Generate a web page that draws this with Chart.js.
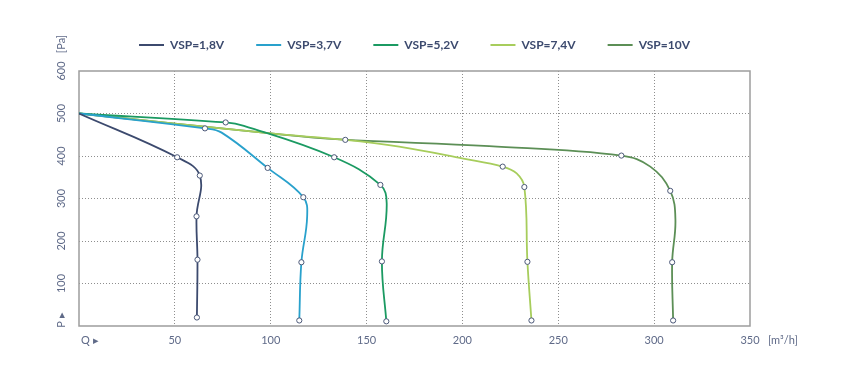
<!DOCTYPE html>
<html><head><meta charset="utf-8">
<script src="https://cdn.jsdelivr.net/npm/chart.js@4.4.1/dist/chart.umd.min.js"></script>
<style>html,body{margin:0;padding:0;background:#fff}#wrap{width:850px;height:382px;position:relative}</style>
</head><body><div id="wrap"><canvas id="c" width="850" height="382"></canvas></div>
<script>
// ---- data ----
const seriesLabels = ['VSP=1,8V', 'VSP=3,7V', 'VSP=5,2V', 'VSP=7,4V', 'VSP=10V'];
const xTickValues = [50, 100, 150, 200, 250, 300, 350];
const yTickValues = [100, 200, 300, 400, 500, 600];

// airflow Q [m3/h] and pressure P [Pa]
const q18 = [0, 51.2, 63.0, 61.3, 61.8, 61.5];
const p18 = [500, 397, 354, 258, 156, 20];
const m18 = [0, 1, 1, 1, 1, 1];

const q37 = [0, 65.7, 74.4, 98.4, 117.0, 119.0, 116.0, 114.9];
const p37 = [500, 465, 455, 372, 303, 257, 150, 13];
const m37 = [0, 1, 0, 1, 1, 0, 1, 1];

const q52 = [0, 76.5, 86.0, 133.1, 157.2, 160.5, 158.0, 160.3];
const p52 = [500, 479, 471, 397, 332, 289, 152, 11];
const m52 = [0, 1, 0, 1, 1, 0, 1, 1];

const q74 = [0, 100, 138.9, 167, 200.5, 221.0, 228.3, 232.3, 233.9, 236.0];
const p74 = [500, 453, 438, 422, 394, 375, 359, 327, 151, 13];
const m74 = [0, 0, 1, 0, 0, 1, 0, 1, 1, 1];

const q10 = [0, 100, 136, 214, 282.9, 298, 308.4, 311.1, 309.4, 309.9];
const p10 = [500, 453, 439, 423, 401, 375, 318, 250, 150, 13];
const m10 = [0, 0, 0, 0, 1, 0, 1, 0, 1, 1];

// ---- styles ----
const colors = ['#3c4a6e', '#29a1cc', '#1b9a62', '#a7cd5c', '#5c8f56'];
const tickColor = '#5f6a88';
const gridColor = '#8e8e8e';
const fontFamily = 'Lato, "Open Sans", sans-serif';

const seriesQ = [q18, q37, q52, q74, q10];
const seriesP = [p18, p37, p52, p74, p10];
const seriesM = [m18, m37, m52, m74, m10];

const datasets = seriesLabels.map((label, i) => ({
  label,
  data: seriesQ[i].map((q, j) => ({ x: q, y: seriesP[i][j] })),
  showLine: true,
  borderColor: colors[i],
  backgroundColor: colors[i],
  borderWidth: 1.8,
  tension: 0.4,
  pointRadius: ctx => seriesM[i][ctx.dataIndex] ? 2.6 : 0,
  pointBackgroundColor: '#ffffff',
  pointBorderColor: '#4b5878',
  pointBorderWidth: 1
}));

const decor = {
  id: 'decor',
  afterLayout(chart) {
    const lg = chart.legend, ca = chart.chartArea;
    if (lg) {
      lg.left = ca.left; lg.right = ca.right;
      lg.top -= 10; lg.bottom -= 10;
    }
  },
  beforeDatasetsDraw(chart) {
    const { ctx, chartArea: ca } = chart;
    ctx.save();
    ctx.strokeStyle = '#9d9d9d';
    ctx.lineWidth = 1.5;
    ctx.strokeRect(ca.left, ca.top, ca.right - ca.left, ca.bottom - ca.top);
    ctx.restore();
  },
  afterDraw(chart) {
    const { ctx, chartArea: ca } = chart;
    ctx.save();
    ctx.fillStyle = tickColor;
    ctx.font = '11px ' + fontFamily;
    ctx.textBaseline = 'middle';
    ctx.textAlign = 'left';
    ctx.fillText('Q \u25B8', ca.left + 2, 340);
    ctx.fillText('[m\u00B3/h]', ca.right + 18, 340);
    ctx.translate(61, ca.bottom - 6);
    ctx.rotate(-Math.PI / 2);
    ctx.textAlign = 'center';
    ctx.fillText('P \u25B8', 0, 0);
    ctx.restore();
    ctx.save();
    ctx.fillStyle = tickColor;
    ctx.font = '11px ' + fontFamily;
    ctx.textBaseline = 'middle';
    ctx.textAlign = 'center';
    ctx.translate(61, 44);
    ctx.rotate(-Math.PI / 2);
    ctx.fillText('[Pa]', 0, 0);
    ctx.restore();
  }
};

new Chart(document.getElementById('c'), {
  type: 'scatter',
  data: { datasets },
  plugins: [decor],
  options: {
    responsive: false,
    animation: false,
    layout: { padding: { top: 17, right: 100, left: 0, bottom: 0 } },
    plugins: {
      tooltip: { enabled: false },
      legend: {
        position: 'top',
        labels: {
          color: '#3c4a6e',
          font: { family: fontFamily, size: 12, weight: 'bold' },
          boxWidth: 25,
          boxHeight: 2,
          padding: 32,
          generateLabels: chart => Chart.defaults.plugins.legend.labels.generateLabels(chart)
            .map(l => Object.assign(l, { fillStyle: l.strokeStyle, lineWidth: 0 }))
        }
      }
    },
    scales: {
      x: {
        type: 'linear', min: 0, max: 350,
        ticks: {
          stepSize: 50, color: tickColor, padding: 8,
          font: { family: fontFamily, size: 11 },
          callback: v => xTickValues.includes(v) ? String(v) : ''
        },
        grid: {
          drawTicks: false,
          color: c => (c.tick.value === 0 || c.tick.value === 350) ? 'rgba(0,0,0,0)' : gridColor,
          lineWidth: 1
        },
        border: { display: false, dash: [1, 2] },
        afterFit: s => { s.height = 56; }
      },
      y: {
        type: 'linear', min: 0, max: 600,
        ticks: {
          stepSize: 50, color: tickColor, padding: 8,
          minRotation: 90, maxRotation: 90, crossAlign: 'center',
          font: { family: fontFamily, size: 11 },
          callback: v => yTickValues.includes(v) ? String(v) : ''
        },
        grid: {
          drawTicks: false,
          color: c => (c.tick.value === 0 || c.tick.value === 600) ? 'rgba(0,0,0,0)' : gridColor,
          lineWidth: 1
        },
        border: { display: false, dash: [1, 2] },
        afterFit: s => { s.width = 79; }
      }
    }
  }
});
</script>
</body></html>
